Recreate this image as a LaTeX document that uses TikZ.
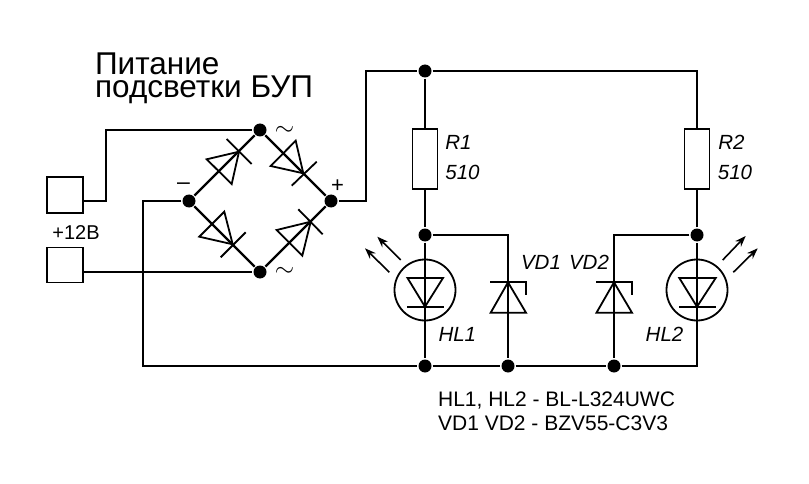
\documentclass[tikz,border=0pt]{standalone}
\usepackage{fontspec}
\setmainfont{Liberation Sans}
\usetikzlibrary{arrows.meta}
\begin{document}
\begin{tikzpicture}[x=1pt,y=-1pt,line width=2.2pt,
                    dot/.style = {circle,
                                inner sep=0pt,
                                minimum size=13pt,
                                fill=black},
                    box/.style = {draw,
                                line width=1.9pt,
                                inner sep=0pt},
                    thin part/.style = {line width=1.8pt},
                    ray/.style = {line width=1.6pt,-{Stealth[length=11pt,width=8pt]}},
                    lbl/.style = {font=\itshape\fontsize{20.5}{20.5}\selectfont,inner sep=0pt},
                    note/.style = {font=\fontsize{21}{24}\selectfont,inner sep=0pt,align=left,anchor=north west}]
                    \useasboundingbox[fill=white] (0,0) rectangle (809,484);
                    % Bridge junctions
                    \node[dot] (top) at (260,130) {};
                    \node[dot] (left) at (189,201) {};
                    \node[dot] (right) at (331,201) {};
                    \node[dot] (bottom) at (260,272) {};
                    % Rail junctions
                    \node[dot] (railA) at (425,71) {};
                    \node[dot] (midA) at (425,235) {};
                    \node[dot] (gndA) at (425,366) {};
                    \node[dot] (gndB) at (508,366) {};
                    \node[dot] (gndC) at (614,366) {};
                    \node[dot] (midB) at (697,235) {};
                    % Corners
                    \coordinate (railB) at (697,71);
                    \coordinate (gndD) at (697,366);
                    % Terminals
                    \node[box,minimum width=36pt,minimum height=36pt] (termA) at (65,195) {};
                    \node[box,minimum width=36pt,minimum height=35pt] (termB) at (65,265) {};
                    % Resistors
                    \node[box,minimum width=25pt,minimum height=60pt] (resA) at (425,159.3) {};
                    \node[box,minimum width=25pt,minimum height=60pt] (resB) at (697,159.3) {};
                    % LEDs
                    \node[circle,draw,line width=1.8pt,inner sep=0pt,minimum size=61pt] (ledA) at (425,290) {};
                    \node[circle,draw,line width=1.8pt,inner sep=0pt,minimum size=61pt] (ledB) at (697,290) {};
                    % Wires
                    \draw (termA.east |- left) -| (106,130) -- (top);
                    \draw (termB.east |- bottom) -- (bottom);
                    \draw (left) -| (143,366) -- (gndA);
                    \draw (right) -| (366,71) -- (railA);
                    \draw (top) -- (right) -- (bottom) -- (left) -- (top);
                    \draw (railA) -- (railB) -- (resB);
                    \draw (railA) -- (resA);
                    \draw (resA) -- (midA) -- (gndA) -- (gndB) -- (gndC) -- (gndD) -- (midB) -- (resB);
                    \draw (midA) -| (gndB);
                    \draw (midB) -| (gndC);
                    % Bridge diodes
                    \draw[thin part] (226.7,139) -- (251.7,164);
                    \draw[thin part] (239,151.7) -- (206.7,159.3) -- (231.7,184) -- cycle;
                    \draw[thin part] (291.7,185.7) -- (316.7,161.7);
                    \draw[thin part] (303.3,173.3) -- (270.7,166) -- (295.7,140.7) -- cycle;
                    \draw[thin part] (220.7,257.3) -- (245.7,232.3);
                    \draw[thin part] (232.7,244.3) -- (199.3,236.7) -- (224.3,211.7) -- cycle;
                    \draw[thin part] (298.3,209.3) -- (322.7,234.3);
                    \draw[thin part] (310.7,221.7) -- (276.7,230) -- (302.3,255.7) -- cycle;
                    % LED diodes
                    \draw[thin part] (407.5,278) -- (443,278) -- (425,306.7) -- cycle;
                    \draw[thin part] (407,306.7) -- (443.5,306.7);
                    \draw[thin part] (679.3,278) -- (715.7,278) -- (697,306.7) -- cycle;
                    \draw[thin part] (679,306.7) -- (715.7,306.7);
                    % Light rays
                    \draw[ray] (389.3,272.3) -- (365,248.3);
                    \draw[ray] (400.7,260) -- (377.3,236.7);
                    \draw[ray] (722.7,260) -- (745.7,236);
                    \draw[ray] (733.3,272.3) -- (757.7,248.3);
                    % Zener diodes
                    \draw[thin part] (490,282.3) -- (525.7,282.3) -- (525.7,295);
                    \draw[thin part] (490.7,312.7) -- (526,312.7) -- (508,282.3) -- cycle;
                    \draw[thin part] (596,282.3) -- (631.7,282.3) -- (631.7,295);
                    \draw[thin part] (596.5,312.7) -- (632,312.7) -- (614,282.3) -- cycle;
                    % Labels
                    \node[font=\fontsize{31.5}{23}\selectfont,inner sep=0pt,align=left,anchor=north west] (title) at (94,52) {Питание\\подсветки БУП};
                    \node[font=\fontsize{20}{20}\selectfont,inner sep=0pt] (supply) at (76,233) {+12В};
                    \node[font=\fontsize{23}{23}\selectfont,inner sep=0pt] (minus) at (183.5,186.5) {–};
                    \node[font=\fontsize{22}{22}\selectfont,inner sep=0pt] (plus) at (337.5,186) {+};
                    \node[font=\fontsize{30}{30}\selectfont,inner sep=0pt] (acA) at (284.5,130.5) {$\sim$};
                    \node[font=\fontsize{30}{30}\selectfont,inner sep=0pt] (acB) at (284.5,272) {$\sim$};
                    \node[lbl] (nameRA) at (458.5,142) {R1};
                    \node[lbl] (valRA) at (462.5,172.5) {510};
                    \node[lbl] (nameRB) at (731.5,142) {R2};
                    \node[lbl] (valRB) at (735,172.5) {510};
                    \node[lbl] (nameHLA) at (457.3,334) {HL1};
                    \node[lbl] (nameHLB) at (664.5,334) {HL2};
                    \node[lbl] (nameVDA) at (541,262.5) {VD1};
                    \node[lbl] (nameVDB) at (589,262.5) {VD2};
                    \node[note] (parts) at (437,391) {HL1, HL2 - BL-L324UWC\\VD1 VD2 - BZV55-C3V3};
                \end{tikzpicture}
\end{document}
